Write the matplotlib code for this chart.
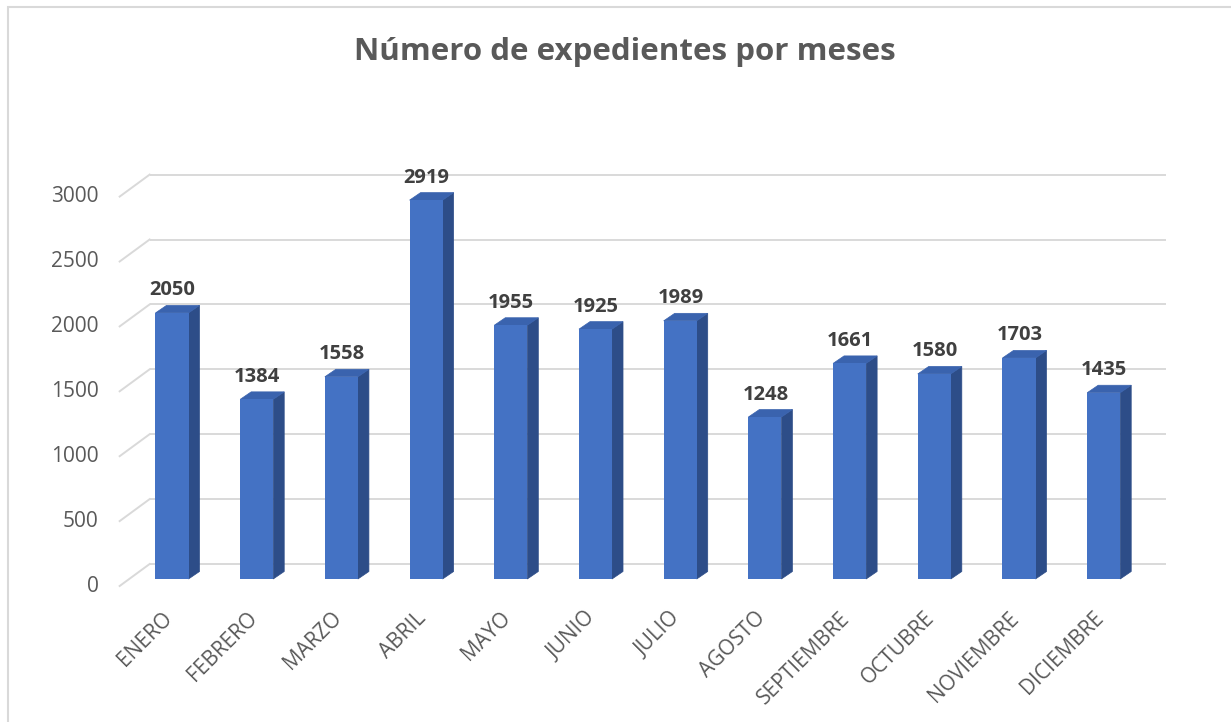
import matplotlib
matplotlib.use("Agg")
import matplotlib.pyplot as plt
from matplotlib.patches import Polygon, Rectangle
from matplotlib.transforms import ScaledTranslation, IdentityTransform

# ---- data ----
months = ["ENERO", "FEBRERO", "MARZO", "ABRIL", "MAYO", "JUNIO", "JULIO",
          "AGOSTO", "SEPTIEMBRE", "OCTUBRE", "NOVIEMBRE", "DICIEMBRE"]
values = [2050, 1384, 1558, 2919, 1955, 1925, 1989, 1248, 1661, 1580, 1703, 1435]
yticks = [0, 500, 1000, 1500, 2000, 2500, 3000]
title = "Número de expedientes por meses"

# ---- style ----
FONT = "Open Sans"
FRONT = "#4472C4"
TOP = "#3A63AE"
SIDE = "#2D4D88"
GRID = "#D9D9D9"
TXT = "#595959"
LBL = "#404040"

W, H, DPI = 1231, 722, 100
fig = plt.figure(figsize=(W / DPI, H / DPI), dpi=DPI)
fig.patch.set_facecolor("white")

ax = fig.add_axes([129.65 / W, 143 / H, 1016.4 / W, 389.4 / H])
ax.set_xlim(-0.5, 11.5)
ax.set_ylim(0, 3000)
ax.axis("off")

# depth offsets in pixels (display, y up)
BACK = (20, 15)       # back wall relative to bar front plane
FLOORF = (-10, -7)    # front edge of floor
DEPTH = (11, 7.5)     # bar depth
BW = 0.39


def off(dx, dy):
    return ScaledTranslation(dx / DPI, dy / DPI, fig.dpi_scale_trans)


def disp(x, y, d=(0, 0)):
    X, Y = ax.transData.transform((x, y))
    return (X + d[0], Y + d[1])


# back wall gridlines
ax.hlines(yticks, -0.5, 11.5, colors=GRID, lw=1.4,
          transform=ax.transData + off(*BACK), clip_on=False, zorder=1)
# left wall diagonals
for t in yticks:
    p0 = disp(-0.5, t, FLOORF)
    p1 = disp(-0.5, t, BACK)
    ax.plot([p0[0], p1[0]], [p0[1], p1[1]], color=GRID, lw=1.4,
            transform=IdentityTransform(), clip_on=False, zorder=1)

# bars: front faces
xs = list(range(len(months)))
ax.bar(xs, values, width=BW, color=FRONT, zorder=3, clip_on=False)

# side and top faces
for x, v in zip(xs, values):
    r = x + BW / 2
    l = x - BW / 2
    side = [disp(r, 0), disp(r, v), disp(r, v, DEPTH), disp(r, 0, DEPTH)]
    top = [disp(l, v), disp(r, v), disp(r, v, DEPTH), disp(l, v, DEPTH)]
    ax.add_patch(Polygon(side, closed=True, facecolor=SIDE, edgecolor=SIDE,
                         lw=0.5, transform=IdentityTransform(), clip_on=False, zorder=2))
    ax.add_patch(Polygon(top, closed=True, facecolor=TOP, edgecolor=TOP,
                         lw=0.5, transform=IdentityTransform(), clip_on=False, zorder=2))
    # data label
    ax.text(x, v, f"{v}", transform=ax.transData + off(0.5, 17.5),
            ha="center", va="baseline", fontsize=14.5, fontweight="bold",
            color=LBL, family=FONT, clip_on=False)

# y tick labels
for t in yticks:
    ax.text(-0.5, t, f"{t}", transform=ax.transData + off(-31, -7),
            ha="right", va="center", fontsize=15, color=TXT, family=FONT)

# x tick labels
for x, m in zip(xs, months):
    ax.text(x, 0, m, transform=ax.transData + off(-3, -36),
            ha="right", va="center", rotation=45, rotation_mode="anchor",
            fontsize=15, color=TXT, family=FONT)

# title
fig.text(625 / W, 1 - 52 / H, title, ha="center", va="center",
         fontsize=22.5, fontweight="bold", color=TXT, family=FONT)

# chart border
fig.patches.append(Rectangle((7.5, -10), 1400, 716 + 10 - 0.5, fill=False,
                             edgecolor=GRID, lw=1.5, transform=IdentityTransform()))

fig.savefig("out.png", dpi=DPI, facecolor="white")
